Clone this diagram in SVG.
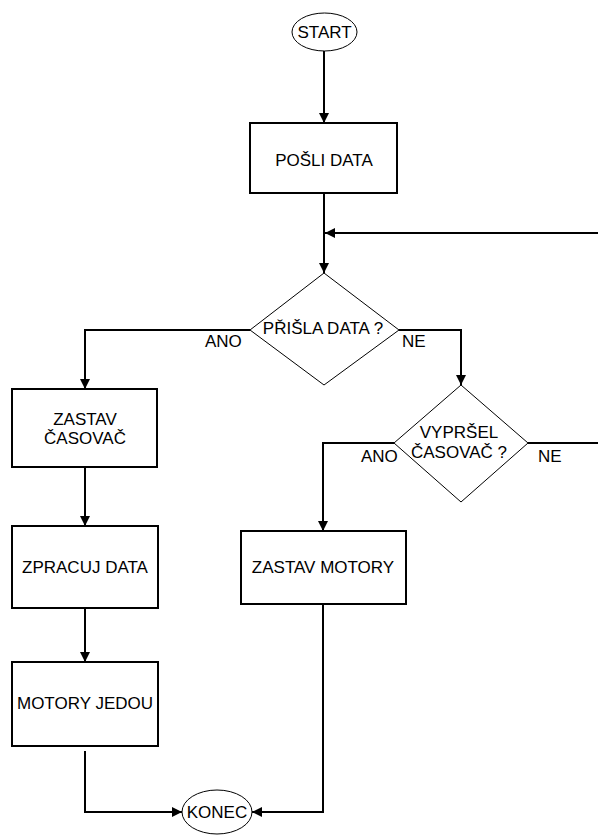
<svg xmlns="http://www.w3.org/2000/svg" width="598" height="835" viewBox="0 0 598 835">
<style>
  .box { fill: #ffffff; stroke: #000000; stroke-width: 2; }
  .dec { fill: #ffffff; stroke: #000000; stroke-width: 1; }
  .term { fill: #ffffff; stroke: #000000; stroke-width: 1; }
  .lbl { font-family: "Liberation Sans", Arial, sans-serif; font-size: 17px; fill: #000000; text-anchor: middle; }
  .edge-lbl { font-family: "Liberation Sans", Arial, sans-serif; font-size: 17px; fill: #000000; text-anchor: start; }
  .conn { fill: none; stroke: #000000; stroke-width: 2; }
</style>
<defs>
  <marker id="arrow" markerUnits="userSpaceOnUse" markerWidth="10" markerHeight="10" refX="10" refY="5" orient="auto">
    <path d="M0,0 L10,5 L0,10 Z" fill="#000000"/>
  </marker>
</defs>
<rect x="0" y="0" width="598" height="835" fill="#ffffff"/>

<g id="connectors">
  <path class="conn" d="M324,51 L324,123" marker-end="url(#arrow)"/>
  <path class="conn" d="M324,193 L324,273" marker-end="url(#arrow)"/>
  <path class="conn" d="M598,233 L325,233" marker-end="url(#arrow)"/>
  <path class="conn" d="M250,330 L85,330 L85,389" marker-end="url(#arrow)"/>
  <path class="conn" d="M399,330 L461,330 L461,385" marker-end="url(#arrow)"/>
  <path class="conn" d="M85,467 L85,526" marker-end="url(#arrow)"/>
  <path class="conn" d="M85,608 L85,662" marker-end="url(#arrow)"/>
  <path class="conn" d="M85,751 L85,812 L182,812" marker-end="url(#arrow)"/>
  <path class="conn" d="M394,443 L323,443 L323,531" marker-end="url(#arrow)"/>
  <path class="conn" d="M528,443 L598,443"/>
  <path class="conn" d="M323,604 L323,812 L252,812" marker-end="url(#arrow)"/>
  <text class="edge-lbl" x="205" y="347">ANO</text>
  <text class="edge-lbl" x="402" y="347">NE</text>
  <text class="edge-lbl" x="361" y="462">ANO</text>
  <text class="edge-lbl" x="538" y="462">NE</text>
</g>

<g id="start">
  <ellipse class="term" cx="324.5" cy="32" rx="32.5" ry="19"/>
  <text class="lbl" x="324.5" y="38">START</text>
</g>

<g id="posli-data">
  <rect class="box" x="250" y="123" width="147" height="70"/>
  <text class="lbl" x="324" y="166">POŠLI DATA</text>
</g>

<g id="prisla-data">
  <polygon class="dec" points="324,273 399,330 324,385 250,330"/>
  <text class="lbl" x="323" y="334">PŘIŠLA DATA ?</text>
</g>

<g id="zastav-casovac">
  <rect class="box" x="12" y="389" width="145" height="78"/>
  <text class="lbl" x="85" y="425">ZASTAV</text>
  <text class="lbl" x="85" y="444">ČASOVAČ</text>
</g>

<g id="zpracuj-data">
  <rect class="box" x="12" y="526" width="146" height="82"/>
  <text class="lbl" x="85" y="573">ZPRACUJ DATA</text>
</g>

<g id="motory-jedou">
  <rect class="box" x="12" y="662" width="146" height="84"/>
  <text class="lbl" x="85" y="709">MOTORY JEDOU</text>
</g>

<g id="vyprsel-casovac">
  <polygon class="dec" points="461,385 528,443 461,502 394,443"/>
  <text class="lbl" x="459" y="438">VYPRŠEL</text>
  <text class="lbl" x="459" y="458">ČASOVAČ ?</text>
</g>

<g id="zastav-motory">
  <rect class="box" x="241" y="531" width="165" height="73"/>
  <text class="lbl" x="323" y="573">ZASTAV MOTORY</text>
</g>

<g id="konec">
  <ellipse class="term" cx="217" cy="812" rx="35" ry="22"/>
  <text class="lbl" x="217" y="818">KONEC</text>
</g>
</svg>
